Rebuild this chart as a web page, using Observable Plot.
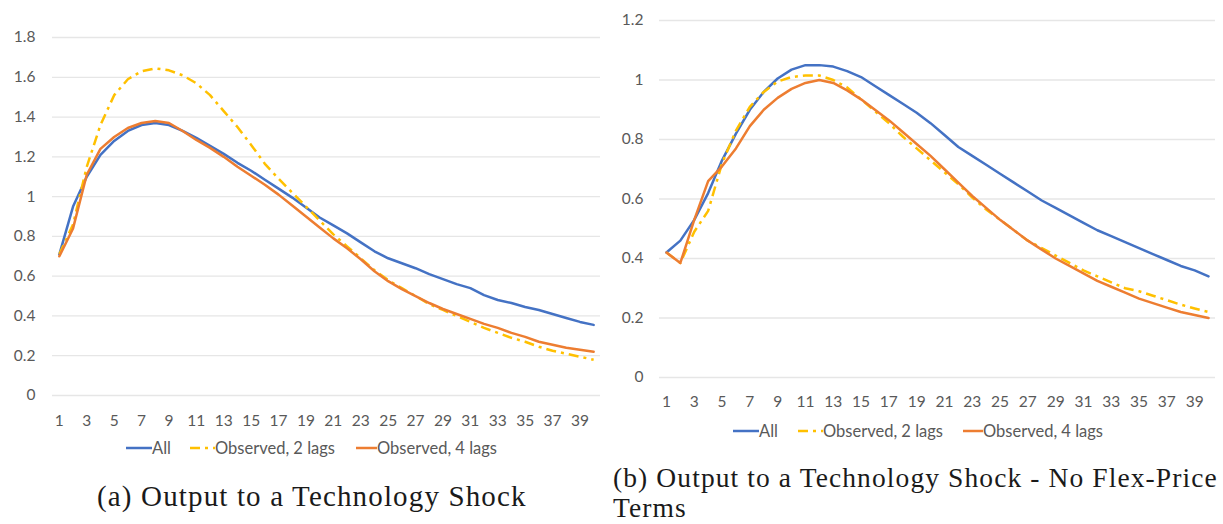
<!DOCTYPE html>
<html>
<head>
<meta charset="utf-8">
<script src="https://cdn.jsdelivr.net/npm/d3@7"></script>
<script src="https://cdn.jsdelivr.net/npm/@observablehq/plot@0.6"></script>
<style>
  html, body { margin: 0; padding: 0; background: #fff; }
  body { width: 1223px; height: 524px; position: relative; overflow: hidden; }
  .panel { position: absolute; top: 0; }
  .legend { position: absolute; font-family: Lato, "Open Sans", sans-serif; font-size: 16.5px; color: #595959; white-space: nowrap; }
  .legend .item { position: absolute; top: 0; display: flex; align-items: center; height: 20px; }
  .legend svg { display: block; }
  .caption { position: absolute; font-family: "Liberation Serif", "DejaVu Serif", serif; font-size: 29px; color: #1a1a1a; line-height: 31px; white-space: nowrap; }
</style>
</head>
<body>
<div id="left" class="panel" style="left:0"></div>
<div id="right" class="panel" style="left:610px"></div>
<div id="legendA" class="legend" style="left:0; top:438px"></div>
<div id="legendB" class="legend" style="left:0; top:421px"></div>
<div id="capA" class="caption" style="left:97px; top:481px; letter-spacing:1.15px"></div>
<div id="capB1" class="caption" style="left:613px; top:463px; font-size:27.5px; line-height:30px; letter-spacing:1.1px"></div>
<div id="capB2" class="caption" style="left:613px; top:493px; font-size:27.5px; line-height:30px; letter-spacing:1.1px"></div>
<script>
// ---- Data ----
const periods = [1,2,3,4,5,6,7,8,9,10,11,12,13,14,15,16,17,18,19,20,21,22,23,24,25,26,27,28,29,30,31,32,33,34,35,36,37,38,39,40];
const xTicks = [1,3,5,7,9,11,13,15,17,19,21,23,25,27,29,31,33,35,37,39];
const yTicksA = [0,0.2,0.4,0.6,0.8,1,1.2,1.4,1.6,1.8];
const yTicksB = [0,0.2,0.4,0.6,0.8,1,1.2];
const seriesNames = ["All", "Observed, 2 lags", "Observed, 4 lags"];
const seriesColors = ["#4472C4", "#FFC000", "#ED7D31"];

// (a) Output to a Technology Shock
const allA  = [0.71,0.95,1.10,1.21,1.28,1.33,1.36,1.37,1.36,1.33,1.295,1.255,1.215,1.17,1.13,1.085,1.04,0.995,0.945,0.895,0.855,0.815,0.77,0.725,0.69,0.665,0.64,0.61,0.585,0.56,0.54,0.505,0.48,0.465,0.445,0.43,0.41,0.39,0.37,0.355];
const lag2A = [0.71,0.86,1.15,1.36,1.51,1.59,1.63,1.645,1.635,1.61,1.57,1.51,1.43,1.35,1.26,1.165,1.09,1.02,0.95,0.88,0.81,0.75,0.69,0.63,0.58,0.54,0.50,0.46,0.43,0.40,0.37,0.34,0.315,0.29,0.27,0.245,0.225,0.21,0.195,0.18];
const lag4A = [0.70,0.84,1.11,1.24,1.30,1.345,1.37,1.38,1.37,1.33,1.285,1.245,1.20,1.15,1.105,1.06,1.01,0.955,0.90,0.845,0.79,0.74,0.685,0.625,0.575,0.535,0.50,0.465,0.435,0.41,0.385,0.36,0.34,0.315,0.295,0.27,0.255,0.24,0.23,0.22];

// (b) Output to a Technology Shock - No Flex-Price Terms
const allB  = [0.42,0.46,0.53,0.62,0.73,0.82,0.90,0.96,1.005,1.035,1.05,1.05,1.045,1.03,1.01,0.98,0.95,0.92,0.89,0.855,0.815,0.775,0.745,0.715,0.685,0.655,0.625,0.595,0.57,0.545,0.52,0.495,0.475,0.455,0.435,0.415,0.395,0.375,0.36,0.34];
const lag2B = [0.42,0.385,0.49,0.56,0.72,0.83,0.91,0.96,0.995,1.01,1.015,1.015,1.0,0.975,0.935,0.895,0.855,0.81,0.77,0.73,0.69,0.65,0.605,0.565,0.53,0.495,0.46,0.435,0.41,0.385,0.36,0.34,0.32,0.30,0.29,0.275,0.26,0.245,0.232,0.22];
const lag4B = [0.42,0.385,0.53,0.66,0.71,0.77,0.845,0.90,0.94,0.97,0.99,1.0,0.99,0.965,0.935,0.90,0.865,0.825,0.785,0.745,0.70,0.655,0.61,0.57,0.53,0.495,0.46,0.43,0.40,0.375,0.35,0.325,0.305,0.285,0.265,0.25,0.235,0.22,0.21,0.20];

const captionA = "(a) Output to a Technology Shock";
const captionB = ["(b) Output to a Technology Shock - No Flex-Price", "Terms"];

// ---- Helpers ----
const dash2 = "10,5,3,5";
function rows(vals) { return periods.map((p, i) => ({period: p, value: vals[i]})); }
const fmt = d => String(+(+d).toFixed(1));

function chart({series, yDomain, yTicks, width, height, mL, mR, mT, mB, yPad, xPad}) {
  const lineMarks = series.map((vals, i) => Plot.lineY(rows(vals), {
    x: "period", y: "value",
    stroke: seriesColors[i], strokeWidth: 2.5,
    strokeDasharray: i === 1 ? dash2 : null,
    strokeLinejoin: "round", strokeLinecap: i === 1 ? "butt" : "round"
  }));
  return Plot.plot({
    width, height,
    marginLeft: mL, marginRight: mR, marginTop: mT, marginBottom: mB,
    style: {fontFamily: "Lato, 'Open Sans', sans-serif", fontSize: "15.5px", color: "#595959", background: "#fff"},
    x: {type: "linear", domain: [0.5, 40.5]},
    y: {domain: yDomain},
    marks: [
      Plot.gridY(yTicks, {stroke: "#e6e6e6", strokeOpacity: 1, strokeWidth: 1.3}),
      Plot.axisY(yTicks, {tickSize: 0, tickPadding: yPad, tickFormat: fmt, fill: "#595959", label: null}),
      Plot.axisX(xTicks, {tickSize: 0, tickPadding: xPad, tickFormat: d => String(d), fill: "#595959", label: null}),
      ...lineMarks
    ]
  });
}

document.getElementById("left").append(chart({
  series: [allA, lag2A, lag4A], yDomain: [0, 1.8], yTicks: yTicksA,
  width: 610, height: 430, mL: 52, mR: 10, mT: 37, mB: 35, yPad: 17, xPad: 19
}));
document.getElementById("right").append(chart({
  series: [allB, lag2B, lag4B], yDomain: [0, 1.2], yTicks: yTicksB,
  width: 613, height: 412, mL: 49, mR: 8, mT: 20, mB: 35, yPad: 16, xPad: 18
}));

// ---- Legends ----
function legend(el, xs) {
  seriesNames.forEach((name, i) => {
    const item = document.createElement("div");
    item.className = "item";
    item.style.left = xs[i][0] + "px";
    const w = xs[i][1] - xs[i][0];
    const sw = d3.create("svg").attr("width", w).attr("height", 20);
    sw.append("line").attr("x1", 0).attr("x2", w).attr("y1", 10).attr("y2", 10)
      .attr("stroke", seriesColors[i]).attr("stroke-width", 2.5)
      .attr("stroke-dasharray", i === 1 ? dash2 : null);
    item.append(sw.node());
    const t = document.createElement("span");
    t.textContent = name;
    item.append(t);
    el.append(item);
  });
}
legend(document.getElementById("legendA"), [[126, 152], [190, 215], [356, 377]]);
legend(document.getElementById("legendB"), [[733, 759], [798, 823], [963, 983]]);

document.getElementById("capA").textContent = captionA;
document.getElementById("capB1").textContent = captionB[0];
document.getElementById("capB2").textContent = captionB[1];
</script>
</body>
</html>
